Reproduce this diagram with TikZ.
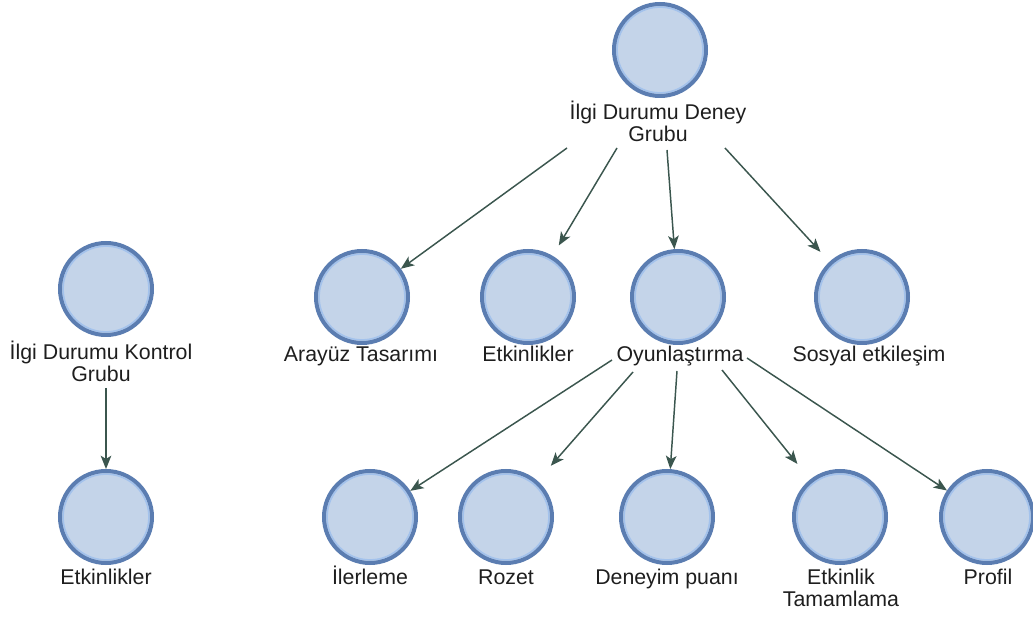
\documentclass[tikz,border=0pt]{standalone}
\usepackage{fontspec}
\setmainfont{Liberation Sans}
\usetikzlibrary{arrows.meta,calc}

\definecolor{ringdark}{HTML}{5B7DB1}
\definecolor{ringlight}{HTML}{A3C2EC}
\definecolor{discfill}{HTML}{C4D4E9}
\definecolor{linkcol}{HTML}{3B564E}
\definecolor{labeltext}{HTML}{1E1E1E}

\tikzset{
  disc/.style={circle, minimum size=69pt, inner sep=0pt, fill=discfill,
    draw=ringdark, line width=3pt,
    path picture={\draw[ringlight, line width=1.2pt]
      (path picture bounding box.center) circle[radius=32.2pt];}},
  % base anchor of a two-line caption sits on its last line
  caption/.style={font=\fontsize{16}{17}\selectfont, text=labeltext,
    inner sep=0pt, align=center, anchor=base},
  link/.style={draw=linkcol, line width=1.1pt,
    -{Stealth[length=10pt, width=8pt, inset=2.5pt]}},
}

\begin{document}
\begin{tikzpicture}[x=0.75pt, y=-0.75pt]
\useasboundingbox (0,0) rectangle (1033,623);

% control group
\node[disc] (kontrol) at (106,289) {};
\node[caption] (kontrolL) at (101,382) {İlgi Durumu Kontrol\\Grubu};
\node[disc] (ketk) at (106,517) {};
\node[caption] (ketkL) at (106,585) {Etkinlikler};

% experiment group
\node[disc] (deney) at (660,50) {};
\node[caption] (deneyL) at (658,142) {İlgi Durumu Deney\\Grubu};

\node[disc] (arayuz) at (362,297) {};
\node[caption] (arayuzL) at (361,362) {Arayüz Tasarımı};
\node[disc] (etk) at (528,297) {};
\node[caption] (etkL) at (528,362) {Etkinlikler};
\node[disc] (oyun) at (678,297) {};
\node[caption] (oyunL) at (680,362) {Oyunlaştırma};
\node[disc] (sosyal) at (862,297) {};
\node[caption] (sosyalL) at (869,362) {Sosyal etkileşim};

\node[disc] (ilerleme) at (370,517) {};
\node[caption] (ilerlemeL) at (370,585) {İlerleme};
\node[disc] (rozet) at (506,517) {};
\node[caption] (rozetL) at (506,585) {Rozet};
\node[disc] (deneyim) at (667,517) {};
\node[caption] (deneyimL) at (667,585) {Deneyim puanı};
\node[disc] (etkt) at (840,517) {};
\node[caption] (etktL) at (841,607) {Etkinlik\\Tamamlama};
\node[disc] (profil) at (987,517) {};
\node[caption] (profilL) at (988,585) {Profil};

% connectors
\draw[link] ($(kontrolL.base)+(5,6)$) -- (ketk);

\draw[link] ($(deneyL.base)+(-91,6)$) -- (arayuz);
\draw[link, shorten >=9pt] ($(deneyL.base)+(-41,6)$) -- (etk);
\draw[link] ($(deneyL.base)+(9,8)$) -- (oyun);
\draw[link, shorten >=10pt] ($(deneyL.base)+(67,6)$) -- (sosyal);

\draw[link] ($(oyunL.base)+(-68,-2)$) -- (ilerleme);
\draw[link, shorten >=15pt] ($(oyunL.base)+(-47,10)$) -- (rozet);
\draw[link] ($(oyunL.base)+(-3,9)$) -- (deneyim);
\draw[link, shorten >=15pt] ($(oyunL.base)+(42,8)$) -- (etkt);
\draw[link] ($(oyunL.base)+(67,-4)$) -- (profil);
\end{tikzpicture}
\end{document}
